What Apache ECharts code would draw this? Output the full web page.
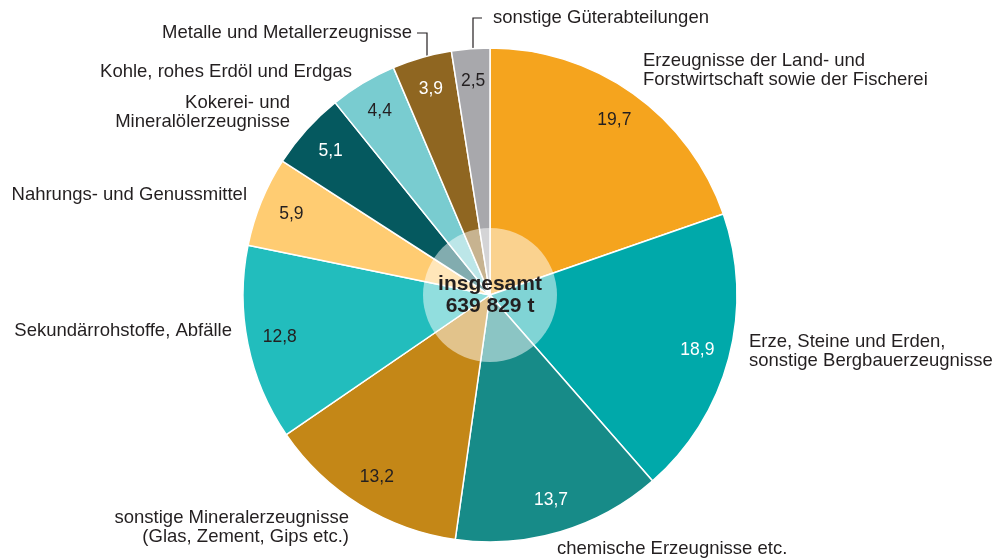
<!DOCTYPE html>
<html>
<head>
<meta charset="utf-8">
<script src="https://cdn.jsdelivr.net/npm/echarts@6/dist/echarts.min.js"></script>
<style>
  html, body { margin: 0; padding: 0; background: #fff; }
  #main { width: 1000px; height: 559px; }
</style>
</head>
<body>
<div id="main"></div>
<script>
const categories = [
  "Erzeugnisse der Land- und\nForstwirtschaft sowie der Fischerei",
  "Erze, Steine und Erden,\nsonstige Bergbauerzeugnisse",
  "chemische Erzeugnisse etc.",
  "sonstige Mineralerzeugnisse\n(Glas, Zement, Gips etc.)",
  "Sekundärrohstoffe, Abfälle",
  "Nahrungs- und Genussmittel",
  "Kokerei- und\nMineralölerzeugnisse",
  "Kohle, rohes Erdöl und Erdgas",
  "Metalle und Metallerzeugnisse",
  "sonstige Güterabteilungen"
];
const shares = [19.7, 18.9, 13.7, 13.2, 12.8, 5.9, 5.1, 4.4, 3.9, 2.5];
const colors = ["#F5A41E", "#00A9AA", "#178B88", "#C48717", "#22BDBD",
                "#FFCC72", "#05595F", "#79CCD0", "#8F6621", "#A8A8AC"];
const valueTextColors = ["#231F20", "#fff", "#fff", "#231F20", "#231F20",
                         "#231F20", "#fff", "#231F20", "#fff", "#231F20"];
const totalLabel = "insgesamt\n639 829 t";

// where the category names sit (x, y, align)
const namePos = [
  [643, 70, "left"],
  [749, 351, "left"],
  [557, 549, "left"],
  [349, 527, "right"],
  [232, 331, "right"],
  [247, 195, "right"],
  [290, 112, "right"],
  [352, 72, "right"],
  [412, 33, "right"],
  [493, 18, "left"]
];
const leaders = {
  8: [[417, 33], [427, 33], [427, 56]],
  9: [[482, 18], [473, 18], [473, 48.5]]
};

const textColor = "#231F20";
const font = "'Liberation Sans', Arial, Helvetica, sans-serif";
const center = [490, 295];

const chart = echarts.init(document.getElementById("main"));
chart.setOption({
  animation: false,
  series: [
    {
      type: "pie",
      center: center,
      radius: [0, 247],
      startAngle: 90,
      clockwise: true,
      avoidLabelOverlap: false,
      silent: true,
      itemStyle: { borderColor: "#fff", borderWidth: 1.5 },
      label: {
        show: true,
        position: "outside",
        color: textColor,
        fontFamily: font,
        fontSize: 18.5,
        lineHeight: 19
      },
      labelLine: { show: false },
      labelLayout: function (p) {
        const pos = namePos[p.dataIndex];
        const out = { x: pos[0], y: pos[1], align: pos[2], verticalAlign: "middle" };
        if (leaders[p.dataIndex]) out.labelLinePoints = leaders[p.dataIndex];
        return out;
      },
      data: categories.map((name, i) => ({
        name: name,
        value: shares[i],
        itemStyle: { color: colors[i] },
        labelLine: leaders[i]
          ? { show: true, lineStyle: { color: textColor, width: 1.2 } }
          : { show: false }
      }))
    },
    {
      type: "pie",
      center: center,
      radius: [176, 247],
      startAngle: 90,
      clockwise: true,
      silent: true,
      itemStyle: { color: "transparent" },
      label: {
        show: true,
        position: "inside",
        fontFamily: font,
        fontSize: 17.5,
        formatter: (p) => p.value.toFixed(1).replace(".", ",")
      },
      labelLine: { show: false },
      data: categories.map((name, i) => ({
        name: name,
        value: shares[i],
        label: { color: valueTextColors[i] }
      }))
    },
    {
      type: "pie",
      center: center,
      radius: [0, 67],
      silent: true,
      itemStyle: { color: "rgba(255,255,255,0.5)" },
      label: {
        show: true,
        position: "center",
        color: textColor,
        fontFamily: font,
        fontSize: 21,
        fontWeight: "bold",
        lineHeight: 22,
        formatter: totalLabel
      },
      labelLine: { show: false },
      data: [{ name: "insgesamt", value: 1 }]
    }
  ]
});
</script>
</body>
</html>
